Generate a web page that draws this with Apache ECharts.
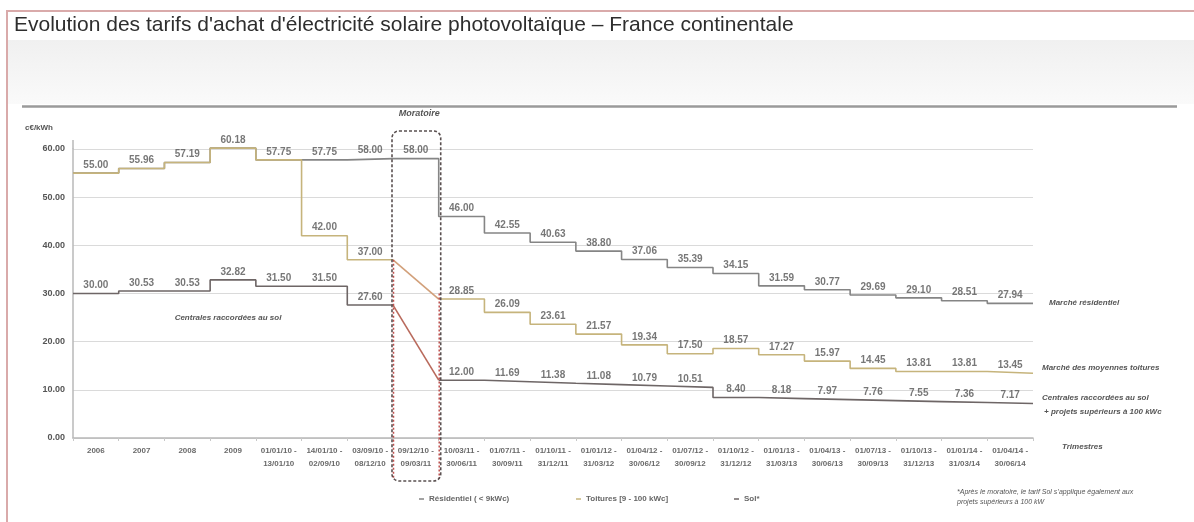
<!DOCTYPE html>
<html><head><meta charset="utf-8">
<script src="https://cdn.jsdelivr.net/npm/echarts@6/dist/echarts.min.js"></script>
<style>html,body{margin:0;padding:0;background:#fff}#c{width:1194px;height:522px}</style>
</head><body><div id="c"></div>
<script>
// ---- data ----
const categories = ['2006','2007','2008','2009',
  '01/01/10 -\n13/01/10','14/01/10 -\n02/09/10','03/09/10 -\n08/12/10','09/12/10 -\n09/03/11',
  '10/03/11 -\n30/06/11','01/07/11 -\n30/09/11','01/10/11 -\n31/12/11','01/01/12 -\n31/03/12',
  '01/04/12 -\n30/06/12','01/07/12 -\n30/09/12','01/10/12 -\n31/12/12','01/01/13 -\n31/03/13',
  '01/04/13 -\n30/06/13','01/07/13 -\n30/09/13','01/10/13 -\n31/12/13','01/01/14 -\n31/03/14',
  '01/04/14 -\n30/06/14'];
const residentiel = [55.00,55.96,57.19,60.18,57.75,57.75,58.00,58.00,
  46.00,42.55,40.63,38.80,37.06,35.39,34.15,31.59,30.77,29.69,29.10,28.51,27.94];
const toitures = [55.00,55.96,57.19,60.18,57.75,42.00,37.00,null,
  28.85,26.09,23.61,21.57,19.34,17.50,18.57,17.27,15.97,14.45,13.81,13.81,13.45];
const sol = [30.00,30.53,30.53,32.82,31.50,31.50,27.60,null,
  12.00,11.69,11.38,11.08,10.79,10.51,8.40,8.18,7.97,7.76,7.55,7.36,7.17];
const yTicks = [0,10,20,30,40,50,60];
const moratoireIndex = 7;

const nameRes = 'Résidentiel ( < 9kWc)';
const nameToit = 'Toitures [9 - 100 kWc]';
const nameSol = 'Sol*';

// ---- helpers ----
function stepData(vals, from, to) {
  const d = [];
  for (let i = from; i <= to; i++) d.push([i, vals[i]]);
  d.push([to + 1, vals[to]]);
  return d;
}
function labelData(vals, skip) {
  const d = [];
  vals.forEach((v, i) => { if (v != null && !(skip && skip(i))) d.push([i + 0.5, v]); });
  return d;
}
const last = categories.length - 1;
const M = moratoireIndex;

const colRes = '#858585', colToit = '#c6b47c', colSol = '#6e6666';
const font = 'Liberation Sans, Arial, sans-serif';

function stepSeries(name, data, color, z) {
  return { name, type: 'line', xAxisIndex: 1, yAxisIndex: 0, data, step: 'end',
    symbol: 'none', clip: false, z, lineStyle: { color, width: 1.6 }, itemStyle: { color },
    emphasis: { disabled: true }, silent: true };
}
function diagSeries(name, a, b, color) {
  return { name, type: 'line', xAxisIndex: 1, yAxisIndex: 0, data: [a, b],
    symbol: 'none', clip: false, z: 4, lineStyle: { color, width: 1.6 },
    emphasis: { disabled: true }, silent: true };
}
function labelSeries(name, data) {
  return { name, type: 'scatter', xAxisIndex: 1, yAxisIndex: 0, data, symbolSize: 0,
    clip: false, z: 6, silent: true,
    label: { show: true, position: 'top', distance: 3, fontSize: 10, fontWeight: 'bold',
      fontFamily: font, color: '#555', formatter: p => p.value[1].toFixed(2) } };
}

const chart = echarts.init(document.getElementById('c'), null, { renderer: 'canvas' });

const option = {
  animation: false,
  backgroundColor: '#fff',
  title: { text: "Evolution des tarifs d'achat d'électricité solaire photovoltaïque – France continentale",
    left: 9, top: 10, textStyle: { fontFamily: font, fontSize: 21, fontWeight: 'normal', color: '#2e2e2e' } },
  grid: { left: 73, top: 149, width: 960, bottom: 84, containLabel: false },
  xAxis: [
    { type: 'category', data: categories, boundaryGap: true,
      axisLine: { lineStyle: { color: '#b8b8b8', width: 1.5 } },
      axisTick: { show: true, length: 3, lineStyle: { color: '#c8c8c8' } },
      axisLabel: { interval: 0, fontSize: 8, fontWeight: 'bold', fontFamily: font, color: '#6a6a6a',
        lineHeight: 13, margin: 6 } },
    { type: 'value', min: 0, max: categories.length, show: false }
  ],
  yAxis: { type: 'value', min: yTicks[0], max: yTicks[yTicks.length - 1], interval: 10,
    axisLine: { show: true, lineStyle: { color: '#b8b8b8', width: 1.5 } },
    axisTick: { show: false },
    axisLabel: { fontSize: 9, fontWeight: 'bold', fontFamily: font, color: '#555', margin: 8,
      formatter: v => v.toFixed(2) },
    splitLine: { lineStyle: { color: '#dadada', width: 1.2 } } },
  legend: [
    { data: [nameRes], left: 414, top: 490 },
    { data: [nameToit], left: 571, top: 490 },
    { data: [nameSol], left: 729, top: 490 }
  ].map(l => Object.assign(l, { icon: 'rect', itemWidth: 5, itemHeight: 1.5, itemGap: 4,
      selectedMode: false, textStyle: { fontSize: 8, fontWeight: 'bold', fontFamily: font, color: '#666' } })),
  series: [
    stepSeries(nameRes, stepData(residentiel, 0, last), colRes, 2),
    stepSeries(nameSol, stepData(sol, 0, M - 1), colSol, 2),
    stepSeries(nameSol, stepData(sol, M + 1, last), colSol, 2),
    stepSeries(nameToit, stepData(toitures, 0, M - 1), colToit, 3),
    stepSeries(nameToit, stepData(toitures, M + 1, last), colToit, 3),
    diagSeries('moratoire toitures', [M, toitures[M - 1]], [M + 1, toitures[M + 1]], '#d2a07a'),
    diagSeries('moratoire sol', [M, sol[M - 1]], [M + 1, sol[M + 1]], '#b96a5c'),
    labelSeries('lbl res', labelData(residentiel)),
    labelSeries('lbl toit', labelData(toitures, i => toitures[i] === residentiel[i])),
    labelSeries('lbl sol', labelData(sol))
  ]
};
chart.setOption(option);

// decorations positioned via the chart's own scales
const px = (x, y) => chart.convertToPixel({ xAxisIndex: 1, yAxisIndex: 0 }, [x, y]);
const p0 = px(0, 0), pTop = px(0, 60);
const bL = px(M, 0)[0] - 1, bR = px(M + 1, 0)[0] + 2;
const bTop = pTop[1] - 18, bBot = p0[1] + 43;
const redL = px(M, toitures[M - 1])[1], redR = px(M + 1, 30)[1];
const it = (t, x, y, size, extra) => ({ type: 'text', x, y, silent: true,
  style: Object.assign({ text: t, fontFamily: font, fontSize: size, fontStyle: 'italic', fontWeight: 'bold',
    fill: '#555', textVerticalAlign: 'middle' }, extra || {}) });

chart.setOption({ graphic: [
  { type: 'rect', shape: { x: 7, y: 11, width: 1190, height: 520 }, silent: true, z: -10,
    style: { fill: 'none', stroke: '#d9aaaa', lineWidth: 2 } },
  { type: 'rect', shape: { x: 8, y: 40, width: 1186, height: 64 }, silent: true, z: -11,
    style: { fill: new echarts.graphic.LinearGradient(0, 0, 0, 1, [
      { offset: 0, color: '#f0f0f0' }, { offset: 1, color: '#fafafa' }]) } },
  { type: 'line', shape: { x1: 22, y1: 106.5, x2: 1177, y2: 106.5 }, silent: true,
    style: { stroke: '#9a9a9a', lineWidth: 2.5 } },
  { type: 'line', shape: { x1: p0[0], y1: pTop[1] - 9, x2: p0[0], y2: pTop[1] }, silent: true,
    style: { stroke: '#b8b8b8', lineWidth: 1.5 } },
  { type: 'line', shape: { x1: bL + 1.5, y1: redL, x2: bL + 1.5, y2: bBot - 2 }, silent: true, z: 9,
    style: { stroke: '#c0504d', lineWidth: 1.5, lineDash: [2, 2] } },
  { type: 'line', shape: { x1: bR - 1.5, y1: redR, x2: bR - 1.5, y2: bBot - 2 }, silent: true, z: 9,
    style: { stroke: '#c0504d', lineWidth: 1.5, lineDash: [2, 2] } },
  { type: 'rect', shape: { x: bL, y: bTop, width: bR - bL, height: bBot - bTop, r: 7 }, silent: true, z: 10,
    style: { fill: 'none', stroke: '#5a5050', lineWidth: 1.6, lineDash: [3, 2] } },
  it('Moratoire', (bL + bR) / 2 + 3, 114, 9, { textAlign: 'center' }),
  { type: 'text', x: 25, y: 128, silent: true, style: { text: 'c€/kWh', fontFamily: font, fontSize: 8,
    fontWeight: 'bold', fill: '#555', textVerticalAlign: 'middle' } },
  it('Centrales raccordées au sol', 228, 318, 8, { textAlign: 'center' }),
  it('Marché résidentiel', 1049, 303, 8),
  it('Marché des moyennes toitures', 1042, 368, 8),
  it('Centrales raccordées au sol', 1042, 398, 8),
  it('+ projets supérieurs à 100 kWc', 1044, 412, 8),
  it('Trimestres', 1062, 447, 8),
  it('*Après le moratoire, le tarif Sol s\u2019applique également aux', 957, 492, 7, { fontWeight: 'normal' }),
  it('projets supérieurs à 100 kW', 957, 502, 7, { fontWeight: 'normal' })
] });
</script>
</body></html>
